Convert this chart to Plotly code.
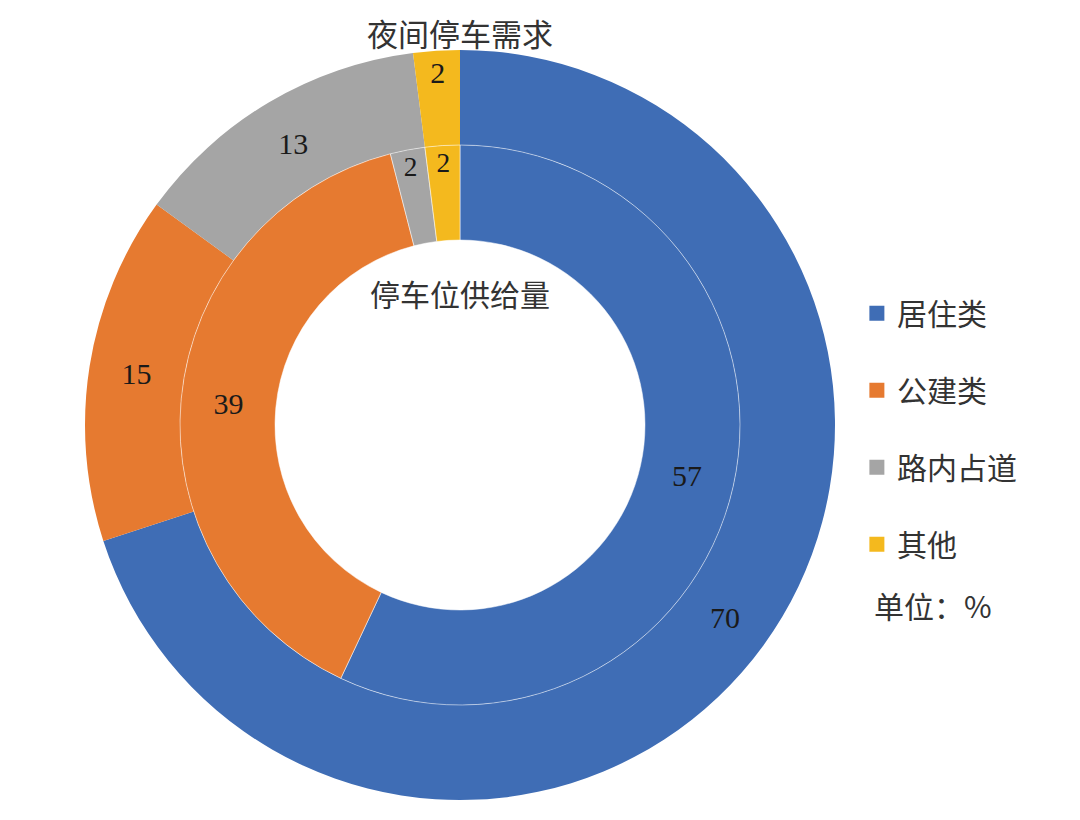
import plotly.graph_objects as go

categories = ["居住类", "公建类", "路内占道", "其他"]
demand_night = [70, 15, 13, 2]     # 外环：夜间停车需求
supply_spaces = [57, 39, 2, 2]     # 内环：停车位供给量
colors = ["#3F6DB5", "#E67A30", "#A5A5A5", "#F4B91E"]

W, H = 1080, 820
off = 8  # page body margin
cx, cy = 460 - off, 425 - off
r_out, r_mid, r_in = 375, 280, 185


def dom(r):
    return dict(x=[(cx - r) / W, (cx + r) / W],
                y=[(H - cy - r) / H, (H - cy + r) / H])


def py(y):
    return 1 - (y - off) / H


num_font = dict(family="Liberation Serif, Times New Roman, serif", size=30, color="#1a1a1a")
cjk = "Noto Sans CJK SC, sans-serif"

fig = go.Figure()
fig.add_trace(go.Pie(
    labels=categories, values=demand_night, sort=False, direction="clockwise",
    rotation=0, hole=r_mid / r_out, domain=dom(r_out),
    marker=dict(colors=colors, line=dict(width=0)),
    texttemplate="%{value}", textposition="inside", insidetextorientation="horizontal",
    textfont=num_font, showlegend=False, hoverinfo="label+value",
))
fig.add_trace(go.Pie(
    labels=categories, values=supply_spaces, sort=False, direction="clockwise",
    rotation=0, hole=r_in / r_mid, domain=dom(r_mid),
    marker=dict(colors=colors, line=dict(width=1, color="rgba(255,255,255,0.5)")),
    texttemplate="%{value}", textposition="inside", insidetextorientation="horizontal",
    textfont=num_font, showlegend=False, hoverinfo="label+value",
))

# legend entries
for name, c in zip(categories, colors):
    fig.add_trace(go.Scatter(
        x=[None], y=[None], mode="markers", name=name, legendgroup=name,
        marker=dict(symbol="square", size=15, color=c),
    ))

fig.update_layout(
    width=W, height=H,
    margin=dict(l=0, r=0, t=0, b=0),
    paper_bgcolor="white", plot_bgcolor="white",
    xaxis=dict(visible=False), yaxis=dict(visible=False),
    legend=dict(x=0.786, y=0.6595, xanchor="left", yanchor="top",
                font=dict(family=cjk, size=30, color="#333333"),
                tracegroupgap=35, itemwidth=30, bgcolor="rgba(0,0,0,0)"),
    annotations=[
        dict(text="夜间停车需求", x=cx / W, y=1, xref="paper", yref="paper",
             yanchor="top", showarrow=False, font=dict(family=cjk, size=31, color="#333333")),
        dict(text="停车位供给量", x=cx / W, y=py(293), xref="paper", yref="paper",
             yanchor="middle", showarrow=False, font=dict(family=cjk, size=30, color="#333333")),
        dict(text="单位：%", x=(872 - off) / W, y=py(605), xref="paper", yref="paper",
             xanchor="left", yanchor="middle", showarrow=False,
             font=dict(family=cjk, size=30, color="#333333")),
    ],
)

fig.write_html("out.html")
